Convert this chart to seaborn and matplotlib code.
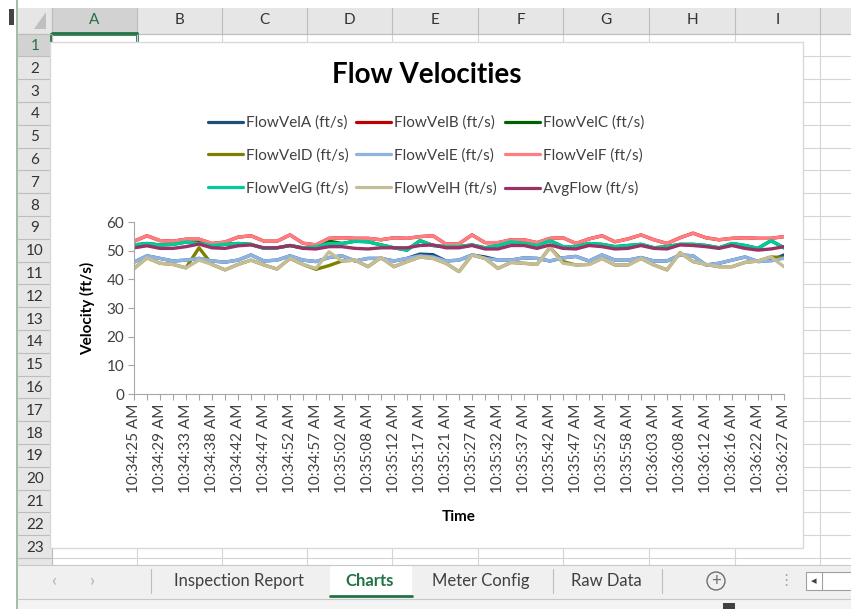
import numpy as np
import pandas as pd
import seaborn as sns
import matplotlib
matplotlib.use("Agg")
import matplotlib.pyplot as plt
from matplotlib.patches import Rectangle, Circle
from matplotlib.lines import Line2D

# ---------------- data ----------------
tick_labels = ["10:34:25 AM", "10:34:29 AM", "10:34:33 AM", "10:34:38 AM", "10:34:42 AM",
               "10:34:47 AM", "10:34:52 AM", "10:34:57 AM", "10:35:02 AM", "10:35:08 AM",
               "10:35:12 AM", "10:35:17 AM", "10:35:21 AM", "10:35:27 AM", "10:35:32 AM",
               "10:35:37 AM", "10:35:42 AM", "10:35:47 AM", "10:35:52 AM", "10:35:58 AM",
               "10:36:03 AM", "10:36:08 AM", "10:36:12 AM", "10:36:16 AM", "10:36:22 AM",
               "10:36:27 AM"]

flow_a = [46.0, 48.2, 47.3, 46.4, 46.7, 47.3, 46.4, 46.0, 46.7, 48.5, 46.4, 46.7, 48.2,
          46.7, 46.2, 47.6, 48.2, 46.4, 47.3, 47.3, 46.4, 47.3, 48.8, 48.6, 46.4, 46.7,
          48.5, 47.8, 46.7, 46.7, 47.5, 47.3, 46.4, 47.5, 48.0, 46.4, 48.5, 46.7, 46.7,
          47.6, 46.4, 46.4, 48.5, 48.2, 45.0, 45.6, 46.7, 47.8, 46.2, 46.6, 48.5]
flow_b = [53.3, 55.2, 53.5, 53.3, 54.0, 54.0, 52.5, 53.0, 54.7, 55.2, 53.3, 53.3, 55.5,
          52.6, 52.0, 54.3, 54.5, 54.3, 54.3, 53.8, 54.5, 54.3, 54.9, 55.2, 52.3, 52.4,
          55.5, 52.8, 52.8, 53.8, 53.8, 52.8, 54.3, 54.5, 52.5, 54.1, 55.2, 53.1, 54.1,
          55.5, 53.8, 52.5, 54.5, 56.1, 54.5, 53.8, 54.3, 54.5, 54.3, 54.3, 54.9]
flow_c = [52.0, 52.5, 52.0, 52.2, 53.0, 53.6, 51.8, 52.2, 52.5, 52.2, 50.8, 51.0, 51.8,
          51.0, 51.3, 53.3, 52.5, 53.3, 53.1, 52.0, 51.0, 50.2, 53.5, 51.8, 51.4, 51.4,
          52.0, 51.0, 51.8, 53.1, 52.5, 51.8, 53.5, 51.4, 51.4, 52.5, 52.2, 51.4, 51.8,
          52.2, 51.0, 51.4, 52.2, 52.2, 51.8, 51.0, 52.5, 51.8, 50.8, 53.5, 51.0]
flow_d = [43.8, 47.5, 45.6, 45.2, 44.0, 51.0, 45.2, 43.3, 45.2, 46.7, 45.0, 43.6, 47.3,
          45.2, 43.5, 44.8, 46.4, 46.7, 44.4, 47.6, 44.4, 46.2, 47.8, 47.3, 45.6, 42.7,
          48.5, 47.3, 43.8, 45.9, 45.6, 45.2, 51.1, 46.2, 45.0, 45.2, 47.3, 45.0, 45.0,
          47.3, 45.0, 43.3, 49.3, 46.2, 45.2, 44.4, 44.4, 45.9, 46.4, 47.8, 47.6]
flow_e = [46.0, 48.2, 47.3, 46.4, 46.7, 47.3, 46.4, 46.0, 46.7, 48.5, 46.4, 46.7, 48.2,
          46.7, 46.2, 47.6, 48.2, 46.4, 47.3, 47.3, 46.4, 47.3, 48.2, 47.8, 46.4, 46.7,
          48.5, 47.3, 46.7, 46.7, 47.5, 47.3, 46.4, 47.5, 48.0, 46.4, 48.5, 46.7, 46.7,
          47.6, 46.4, 46.4, 48.5, 48.2, 45.0, 45.6, 46.7, 47.8, 46.2, 46.4, 47.3]
flow_f = [53.3, 55.2, 53.5, 53.3, 54.0, 54.0, 52.5, 53.0, 54.7, 55.2, 53.3, 53.3, 55.5,
          52.6, 52.0, 54.3, 54.5, 54.3, 54.3, 53.8, 54.5, 54.3, 54.9, 55.2, 52.3, 52.4,
          55.5, 52.8, 52.8, 53.8, 53.8, 52.8, 54.3, 54.5, 52.5, 54.1, 55.2, 53.1, 54.1,
          55.5, 53.8, 52.5, 54.5, 56.1, 54.5, 53.8, 54.3, 54.5, 54.3, 54.3, 54.9]
flow_g = [52.0, 52.5, 52.0, 52.2, 53.0, 52.5, 51.8, 52.2, 52.5, 52.2, 50.8, 51.0, 51.8,
          51.0, 51.3, 52.5, 52.5, 53.3, 53.1, 52.0, 51.0, 50.2, 53.5, 51.8, 51.4, 51.4,
          52.0, 51.0, 51.8, 53.1, 52.5, 51.8, 53.5, 51.4, 51.4, 52.5, 52.2, 51.4, 51.8,
          52.2, 51.0, 51.4, 52.2, 52.2, 51.8, 51.0, 52.5, 51.8, 50.8, 53.5, 51.0]
flow_h = [43.8, 47.5, 45.6, 45.2, 44.0, 46.7, 45.2, 43.3, 45.2, 46.7, 45.0, 43.6, 47.3,
          45.2, 43.8, 49.6, 46.4, 46.7, 44.4, 47.6, 44.4, 46.2, 47.8, 47.3, 45.6, 42.7,
          48.5, 47.3, 43.8, 45.9, 45.6, 45.2, 51.1, 45.6, 45.0, 45.2, 47.3, 45.0, 45.0,
          47.3, 45.0, 43.3, 49.3, 46.2, 45.2, 44.4, 44.4, 45.9, 46.4, 47.8, 44.4]
avg_flow = [51.0, 51.7, 50.8, 50.8, 51.4, 52.3, 51.0, 50.8, 51.7, 52.0, 51.0, 51.0, 51.8,
            50.8, 50.6, 51.4, 51.4, 50.8, 50.6, 51.0, 51.0, 51.0, 51.8, 52.0, 51.0, 51.0,
            51.8, 50.6, 50.6, 51.8, 51.8, 50.8, 52.0, 50.8, 50.6, 51.8, 51.4, 50.6, 50.8,
            51.8, 50.8, 50.6, 52.0, 51.8, 51.4, 50.8, 51.8, 50.8, 50.2, 50.6, 51.4]

series_names = ["FlowVelA (ft/s)", "FlowVelB (ft/s)", "FlowVelC (ft/s)",
                "FlowVelD (ft/s)", "FlowVelE (ft/s)", "FlowVelF (ft/s)",
                "FlowVelG (ft/s)", "FlowVelH (ft/s)", "AvgFlow (ft/s)"]
series_values = [flow_a, flow_b, flow_c, flow_d, flow_e, flow_f, flow_g, flow_h, avg_flow]
series_colors = ["#1F4E79", "#C00000", "#006100", "#808000", "#8EB4E3",
                 "#FF7C80", "#00CC99", "#C4BD97", "#993366"]

rows = []
for name, vals in zip(series_names, series_values):
    for i, v in enumerate(vals):
        rows.append({"sample": i, "velocity": v, "series": name})
df = pd.DataFrame(rows)

# ---------------- figure ----------------
sns.set_theme(style="white")
plt.rcParams["font.family"] = ["Lato", "DejaVu Sans"]

W, H = 851, 609
fig = plt.figure(figsize=(W / 100, H / 100), dpi=100)

def fx(x):
    return x / W

def fy(y):
    return 1 - y / H

# Excel chrome background
bg = fig.add_axes([0, 0, 1, 1])
bg.set_xlim(0, W)
bg.set_ylim(H, 0)
bg.axis("off")

grid_c = "#D4D4D4"
hdr_bg = "#E6E6E6"
hdr_line = "#BDBDBD"
green = "#217346"

col_bounds = [52, 137, 222, 307, 392, 478, 563, 649, 735, 820, 905]
col_letters = ["A", "B", "C", "D", "E", "F", "G", "H", "I"]
row_h = 22.8
row_top = 33.5
n_rows = 23

# header row
bg.add_patch(Rectangle((18, 8), W - 18, row_top - 8, fc=hdr_bg, ec="none"))
bg.add_patch(Rectangle((52, 8), 85, row_top - 8, fc="#D2D2D2", ec="none"))
# row header column
bg.add_patch(Rectangle((18, row_top), 34, 565 - row_top, fc=hdr_bg, ec="none"))
bg.add_patch(Rectangle((18, row_top), 34, row_h, fc="#D2D2D2", ec="none"))
# corner triangle
bg.fill([46, 46, 34], [12, 29, 29], color="#BFBFBF", lw=0)

for xb in col_bounds:
    bg.plot([xb, xb], [8, row_top], color=hdr_line, lw=0.8)
    bg.plot([xb, xb], [row_top, 565], color=grid_c, lw=0.8)
for k in range(n_rows + 1):
    yb = row_top + k * row_h
    bg.plot([18, 52], [yb, yb], color=hdr_line, lw=0.8)
    bg.plot([52, W], [yb, yb], color=grid_c, lw=0.8)
bg.plot([18, W], [row_top, row_top], color=hdr_line, lw=0.8)
bg.plot([52, 52], [8, 565], color=hdr_line, lw=0.8)
bg.plot([52, 137], [row_top - 1, row_top - 1], color=green, lw=2)

for i, letter in enumerate(col_letters):
    cx = (col_bounds[i] + col_bounds[i + 1]) / 2
    bg.text(cx, 20.5, letter, ha="center", va="center", fontsize=11,
            color=green if i == 0 else "#333333")
for k in range(n_rows):
    cy = row_top + (k + 0.5) * row_h
    bg.text(35, cy + 1, str(k + 1), ha="center", va="center", fontsize=11,
            color=green if k == 0 else "#333333")

# selected cell A1
bg.add_patch(Rectangle((51, row_top), 86, row_h, fc="none", ec=green, lw=2))
# left window edge
bg.add_patch(Rectangle((9, 9), 5, 16, fc="#444444", ec="none"))
bg.plot([16.5, 16.5], [0, H], color="#8FB39B", lw=1.2)

# sheet tab bar
bg.add_patch(Rectangle((17, 565), W - 17, 34, fc="#F0F0F0", ec="none"))
bg.plot([17, W], [565, 565], color="#C8C8C8", lw=0.8)
bg.add_patch(Rectangle((17, 599), W - 17, 10, fc="#F3F3F3", ec="none"))
bg.plot([17, W], [599, 599], color="#C8C8C8", lw=0.8)
bg.add_patch(Rectangle((330, 565), 82, 32, fc="white", ec="none"))
bg.plot([330, 412], [596, 596], color=green, lw=2)
bg.text(54, 581, "\u2039", ha="center", va="center", fontsize=13, color="#B0B0B0")
bg.text(92, 581, "\u203a", ha="center", va="center", fontsize=13, color="#B0B0B0")
for xs in [151, 553, 662]:
    bg.plot([xs, xs], [569, 593], color="#BDBDBD", lw=0.8)
bg.text(239, 581, "Inspection Report", ha="center", va="center", fontsize=12, color="#404040")
bg.text(370, 581, "Charts", ha="center", va="center", fontsize=12, color=green,
        fontweight="bold")
bg.text(481, 581, "Meter Config", ha="center", va="center", fontsize=12, color="#404040")
bg.text(606, 581, "Raw Data", ha="center", va="center", fontsize=12, color="#404040")
bg.add_patch(Circle((716, 581), 9, fc="none", ec="#707070", lw=1))
bg.text(716, 581, "+", ha="center", va="center", fontsize=12, color="#707070")
bg.text(786, 581, "\u22ee", ha="center", va="center", fontsize=11, color="#A0A0A0")
bg.add_patch(Rectangle((806, 572), 60, 18, fc="white", ec="#A0A0A0", lw=0.8))
bg.plot([822, 822], [572, 590], color="#A0A0A0", lw=0.8)
bg.text(814, 581, "\u25c2", ha="center", va="center", fontsize=8, color="#404040")
bg.add_patch(Rectangle((723, 603), 12, 6, fc="#404040", ec="none"))

# chart area
bg.add_patch(Rectangle((50, 42), 753, 506, fc="white", ec="#D9D9D9", lw=1, zorder=5))
bg.text(427, 75, "Flow Velocities", ha="center", va="center", fontsize=20,
        fontweight="bold", color="black", zorder=6)

# plot area
ax = fig.add_axes([fx(134), fy(394), 650 / W, 172 / H])
ax.set_facecolor("none")
sns.lineplot(data=df, x="sample", y="velocity", hue="series", hue_order=series_names,
             palette=series_colors, linewidth=2.4, estimator=None, sort=False,
             legend=False, ax=ax)

n_pts = len(flow_a)
ax.set_xlim(0, n_pts - 1)
ax.set_ylim(0, 60)
ax.set_yticks(range(0, 61, 10))
ax.set_xticks(range(n_pts))
xl = []
for i in range(n_pts):
    xl.append(tick_labels[i // 2] if i % 2 == 0 else "")
ax.set_xticklabels(xl, rotation=90)
ax.tick_params(axis="both", which="both", direction="out", length=4, width=0.8,
               color="#A6A6A6", labelsize=11, labelcolor="#404040", pad=3,
               bottom=True, left=True)
for side in ["top", "right"]:
    ax.spines[side].set_visible(False)
for side in ["left", "bottom"]:
    ax.spines[side].set_color("#A6A6A6")
    ax.spines[side].set_linewidth(0.8)
ax.set_xlabel("Time", fontsize=11, fontweight="bold", color="black", labelpad=12)
ax.set_ylabel("Velocity (ft/s)", fontsize=11, fontweight="bold", color="black", labelpad=8)

# legend (row-major like Excel -> reorder for column-major fill)
handles = [Line2D([0], [0], color=c, lw=2.3) for c in series_colors]
order = [0, 3, 6, 1, 4, 7, 2, 5, 8]
leg = fig.legend([handles[i] for i in order], [series_names[i] for i in order],
                 ncol=3, loc="center", bbox_to_anchor=(fx(426), fy(156)),
                 frameon=False, fontsize=11, handlelength=2.3, handletextpad=0.2,
                 columnspacing=0.5, labelspacing=1.2)
for t in leg.get_texts():
    t.set_color("#404040")
leg.set_zorder(7)

fig.savefig("out.png", dpi=100)
